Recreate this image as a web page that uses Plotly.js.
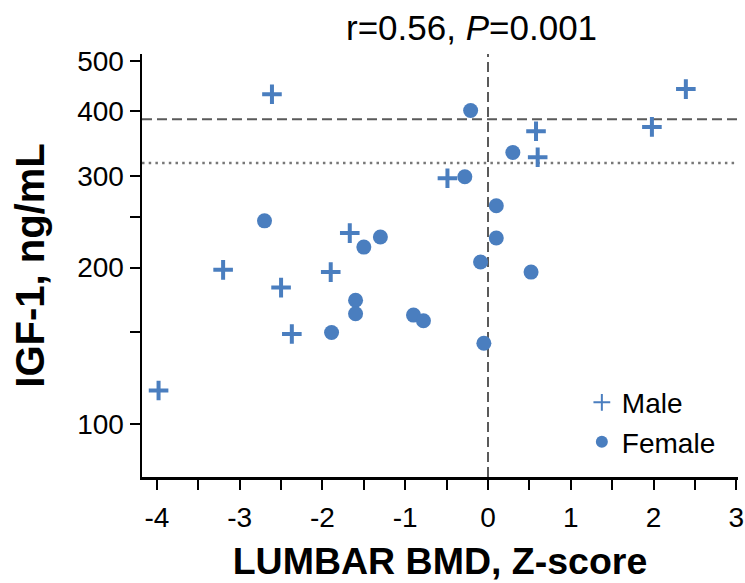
<!DOCTYPE html>
<html>
<head>
<meta charset="utf-8">
<script src="https://cdn.plot.ly/plotly-3.0.1.min.js"></script>
<style>html,body{margin:0;padding:0;background:#fff;}#chart{width:745px;height:583px;}</style>
</head>
<body>
<div id="chart"></div>
<script>
// Male (+)
const maleX = [-2.61, 2.39, 0.58, 0.60, 1.98, -0.49, -3.20, -1.90, -2.50, -1.67, -2.37, -3.98];
const maleY = [431, 441, 366, 326, 373, 297, 198, 196, 183, 233, 149, 116];
// Female (●)
const femaleX = [-0.21, 0.30, -0.28, -2.70, 0.10, 0.10, -1.30, -1.50, -0.09, 0.52, -1.60, -1.60, -0.90, -0.78, -1.89, -0.05];
const femaleY = [401, 333, 299, 246, 263, 228, 229, 219, 205, 196, 173, 163, 162, 158, 150, 143];
// Reference lines
const refDashedY = 386;
const refDottedY = 318;
const refVerticalX = 0;
// Axis ticks
const xTickVals = [-4, -3.5, -3, -2.5, -2, -1.5, -1, -0.5, 0, 0.5, 1, 1.5, 2, 2.5, 3];
const xTickText = ['-4', '', '-3', '', '-2', '', '-1', '', '0', '', '1', '', '2', '', '3'];
const yTickVals = [100, 150, 200, 250, 300, 400, 500];
const yTickText = ['100', '', '200', '', '300', '400', '500'];
const xRange = [-4.18, 3.02];
const yRangeLog = [1.898, 2.712];

const blue = '#4a7ebf';
const font = 'Liberation Sans, Arial, Helvetica, sans-serif';

const yLo = Math.pow(10, yRangeLog[0]), yHi = Math.pow(10, yRangeLog[1]);

const traces = [
  {x: xRange, y: [refDashedY, refDashedY], mode: 'lines', line: {color: '#5a5a5a', width: 2, dash: '10px,5px'}, showlegend: false, hoverinfo: 'skip'},
  {x: xRange, y: [refDottedY, refDottedY], mode: 'lines', line: {color: '#777777', width: 2.5, dash: '2.5px,4.2px'}, showlegend: false, hoverinfo: 'skip'},
  {x: [refVerticalX, refVerticalX], y: [yLo, yHi], mode: 'lines', line: {color: '#5a5a5a', width: 2, dash: '10px,5px'}, showlegend: false, hoverinfo: 'skip'},
  {x: maleX, y: maleY, mode: 'markers', name: 'Male', cliponaxis: false,
   marker: {symbol: 'cross-thin', size: 14, color: blue, line: {color: blue, width: 4}}},
  {x: femaleX, y: femaleY, mode: 'markers', name: 'Female', cliponaxis: false,
   marker: {symbol: 'circle', size: 15, color: blue, line: {width: 0}}}
];

const layout = {
  width: 745, height: 583,
  margin: {l: 142, r: 7, t: 54, b: 106, pad: 0},
  paper_bgcolor: '#fff', plot_bgcolor: '#fff',
  font: {family: font, color: '#000', size: 28},
  showlegend: true,
  legend: {x: 0.738, y: 0.235, xanchor: 'left', yanchor: 'top', bgcolor: 'rgba(0,0,0,0)',
           font: {family: font, size: 28, color: '#000'}, tracegroupgap: 0, itemsizing: 'constant'},
  xaxis: {
    range: xRange, showgrid: false, zeroline: false,
    showline: true, linecolor: '#000', linewidth: 2.5,
    ticks: 'outside', ticklen: 10, tickwidth: 2, tickcolor: '#000',
    tickmode: 'array', tickvals: xTickVals, ticktext: xTickText,
    ticklabelstandoff: 4,
    tickfont: {family: font, size: 28, color: '#000'},
    title: {text: '<b>LUMBAR BMD, Z-score</b>', font: {family: font, size: 37.5, color: '#000'}, standoff: 16}
  },
  yaxis: {
    type: 'log', range: yRangeLog, showgrid: false, zeroline: false,
    showline: true, linecolor: '#000', linewidth: 2.5,
    ticks: 'outside', ticklen: 10, tickwidth: 2, tickcolor: '#000',
    tickmode: 'array', tickvals: yTickVals, ticktext: yTickText,
    tickfont: {family: font, size: 28, color: '#000'},
    title: {text: '<b>IGF-1, ng/mL</b>', font: {family: font, size: 40, color: '#000'}, standoff: 20}
  },
  annotations: [{
    text: 'r=0.56, <i>P</i>=0.001', xref: 'paper', yref: 'paper',
    x: (471 - 142) / 596, y: 1, xanchor: 'center', yanchor: 'bottom', yshift: 5,
    showarrow: false, font: {family: font, size: 35, color: '#000'}
  }]
};

Plotly.newPlot('chart', traces, layout, {displayModeBar: false, staticPlot: true});
</script>
</body>
</html>
